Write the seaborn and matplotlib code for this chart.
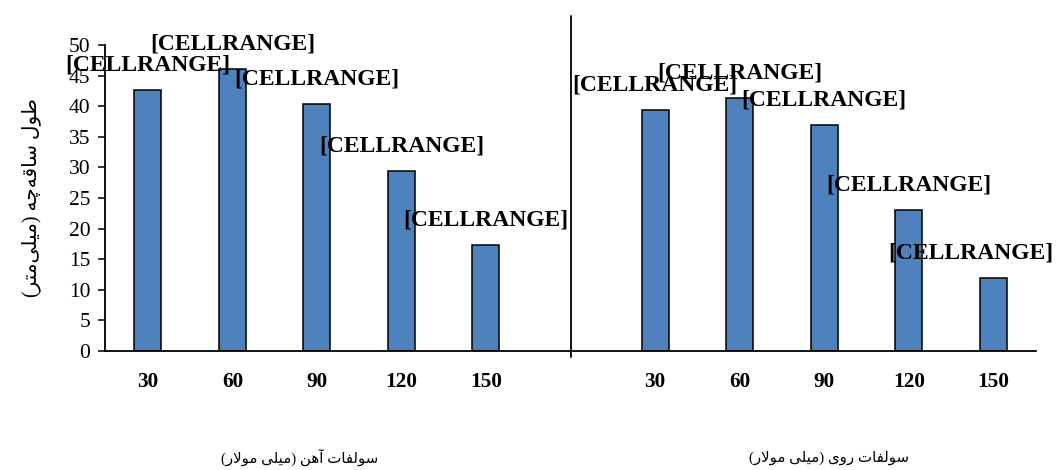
import matplotlib
matplotlib.use("Agg")
import matplotlib.pyplot as plt
import matplotlib.transforms as mtransforms
import pandas as pd
import seaborn as sns

# Sulfate concentrations (mM) and hypocotyl length (mm)
doses = [30, 60, 90, 120, 150]
iron_sulfate = [42.7, 46.0, 40.4, 29.4, 17.4]
zinc_sulfate = [39.4, 41.4, 37.0, 23.0, 12.0]
group_titles = ["سولفات آهن (میلی مولار)", "سولفات روی (میلی مولار)"]
y_title = "طول ساقه‌چه (میلی‌متر)"
bar_label = "[CELLRANGE]"
y_ticks = [0, 5, 10, 15, 20, 25, 30, 35, 40, 45, 50]

# --- minimal Persian shaping (presentation forms + visual order) ---
FORMS = {  # isolated, final, initial, medial
    "ا": ("\uFE8D", "\uFE8E", None, None),
    "آ": ("\uFE81", "\uFE82", None, None),
    "و": ("\uFEED", "\uFEEE", None, None),
    "ر": ("\uFEAD", "\uFEAE", None, None),
    "ط": ("\uFEC1", "\uFEC2", "\uFEC3", "\uFEC4"),
    "ل": ("\uFEDD", "\uFEDE", "\uFEDF", "\uFEE0"),
    "س": ("\uFEB1", "\uFEB2", "\uFEB3", "\uFEB4"),
    "ق": ("\uFED5", "\uFED6", "\uFED7", "\uFED8"),
    "ه": ("\uFEE9", "\uFEEA", "\uFEEB", "\uFEEC"),
    "چ": ("\uFB7A", "\uFB7B", "\uFB7C", "\uFB7D"),
    "م": ("\uFEE1", "\uFEE2", "\uFEE3", "\uFEE4"),
    "ی": ("\uFBFC", "\uFBFD", "\uFBFE", "\uFBFF"),
    "ت": ("\uFE95", "\uFE96", "\uFE97", "\uFE98"),
    "ف": ("\uFED1", "\uFED2", "\uFED3", "\uFED4"),
    "ن": ("\uFEE5", "\uFEE6", "\uFEE7", "\uFEE8"),
}
LAM_ALEF = {"ا": ("\uFEFB", "\uFEFC"), "آ": ("\uFEF5", "\uFEF6")}


def shape(text):
    out = []
    i, n = 0, len(text)
    while i < n:
        c = text[i]
        if c not in FORMS:
            if c != "\u200c":
                out.append(c)
            i += 1
            continue
        prev = text[i - 1] if i > 0 else ""
        joined_before = prev in FORMS and FORMS[prev][2] is not None
        if c == "ل" and i + 1 < n and text[i + 1] in LAM_ALEF:
            out.append(LAM_ALEF[text[i + 1]][1 if joined_before else 0])
            i += 2
            continue
        nxt = text[i + 1] if i + 1 < n else ""
        joins_after = FORMS[c][2] is not None and nxt in FORMS
        iso, fin, ini, med = FORMS[c]
        if joined_before and joins_after:
            g = med
        elif joined_before:
            g = fin
        elif joins_after:
            g = ini
        else:
            g = iso
        out.append(g)
        i += 1
    visual = "".join(reversed(out))
    return visual.translate(str.maketrans("()", ")("))


# --- data table: one categorical slot per bar, an empty slot between groups ---
fe_keys = [f"Fe{d}" for d in doses]
zn_keys = [f"Zn{d}" for d in doses]
order = fe_keys + ["gap"] + zn_keys
df = pd.DataFrame({
    "slot": fe_keys + zn_keys,
    "length": iron_sulfate + zinc_sulfate,
})

sns.set_style("white")
serif = ["Liberation Serif", "DejaVu Sans"]
plt.rcParams["font.family"] = serif
plt.rcParams.update({"text.color": "black", "axes.labelcolor": "black",
                     "xtick.color": "black", "ytick.color": "black"})

fig = plt.figure(figsize=(10.56, 4.70), dpi=100)
ax = fig.add_axes([0.0999, 0.2532, 0.8807, 0.6511])

sns.barplot(data=df, x="slot", y="length", order=order, width=0.32,
            color="#4F81BD", saturation=1, edgecolor="black", linewidth=1.1,
            ax=ax)

ax.set_xlim(-0.5, len(order) - 0.5)
ax.set_ylim(0, 50)
ax.set_yticks(y_ticks)
ax.set_yticklabels([str(v) for v in y_ticks], fontsize=15.5, family=serif)
ax.set_xticks(range(len(order)))
ax.set_xticklabels([str(d) for d in doses] + [""] + [str(d) for d in doses],
                   fontsize=15.3, fontweight="bold", family=serif)
ax.tick_params(axis="x", length=0, pad=15)
ax.tick_params(axis="y", length=5, width=1.1, direction="out", pad=6, left=True)
ax.set_xlabel("")
ax.set_ylabel(shape(y_title), fontsize=14.4, family=serif, labelpad=20)

for side in ("top", "right"):
    ax.spines[side].set_visible(False)
for side in ("left", "bottom"):
    ax.spines[side].set_color("black")
    ax.spines[side].set_linewidth(1.3)

# separator between the two sulfate groups
trans = mtransforms.blended_transform_factory(ax.transData, ax.transAxes)
ax.plot([order.index("gap")] * 2, [-0.02, 1.095], transform=trans,
        color="black", lw=1.3, clip_on=False)

# group captions below the axis
for xf, title in zip((0.284, 0.785), group_titles):
    fig.text(xf, 0.026, shape(title), ha="center", va="center",
             fontsize=10.8, family=serif)

# data-label placeholders above every bar
labels = []
for key, val in zip(df["slot"], df["length"]):
    t = ax.annotate(bar_label, xy=(order.index(key), val), xytext=(0, 18),
                    textcoords="offset points", ha="center", va="center",
                    fontsize=17, fontweight="bold", family=serif,
                    color="black", annotation_clip=False)
    labels.append(t)

# keep labels inside the figure
fig.canvas.draw()
renderer = fig.canvas.get_renderer()
fig_w = fig.bbox.width
for t in labels:
    bb = t.get_window_extent(renderer)
    if bb.x1 > fig_w - 3:
        dx = (bb.x1 - (fig_w - 3)) * 72 / fig.dpi
        x0, y0 = t.xyann
        t.xyann = (x0 - dx, y0)

fig.savefig("out.png", dpi=100)
